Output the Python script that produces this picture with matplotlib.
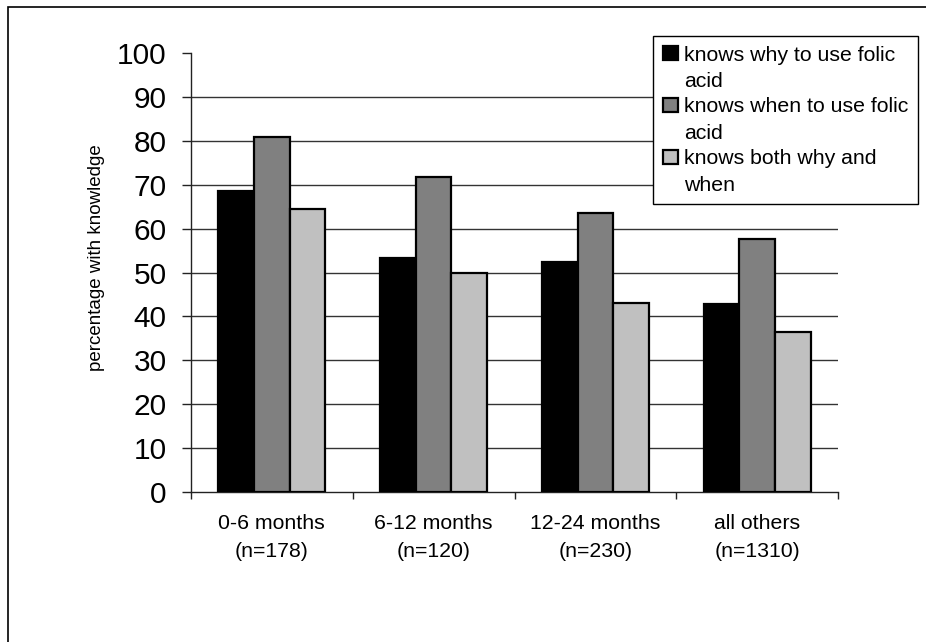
import matplotlib
matplotlib.use("Agg")
import matplotlib.pyplot as plt
import matplotlib.patches as mpatches
from matplotlib.legend_handler import HandlerPatch, update_from_first_child
from matplotlib.container import BarContainer
import numpy as np

plt.rcParams['font.family'] = ['Liberation Sans', 'DejaVu Sans']

# data
groups = ['0-6 months\n(n=178)', '6-12 months\n(n=120)', '12-24 months\n(n=230)', 'all others\n(n=1310)']
knows_why = [68.6, 53.4, 52.3, 42.9]
knows_when = [80.9, 71.8, 63.5, 57.6]
knows_both = [64.5, 49.9, 43.0, 36.4]
series_labels = ['knows why to use folic\nacid', 'knows when to use folic\nacid', 'knows both why and\nwhen']
colors = ['#000000', '#808080', '#c0c0c0']

W, H = 926, 642
fig = plt.figure(figsize=(W / 100, H / 100), dpi=100)
ax = fig.add_axes([191 / W, 1 - 492 / H, (838 - 191) / W, (492 - 53) / H])

x = np.arange(len(groups))
bw = 0.22
for i, (vals, c) in enumerate(zip([knows_why, knows_when, knows_both], colors)):
    ax.bar(x + (i - 1) * bw, vals, bw, color=c, edgecolor='black', linewidth=1.6,
           label=series_labels[i], zorder=3)

ax.set_xlim(-0.5, len(groups) - 0.5)
ax.set_ylim(0, 100)
ax.set_yticks(range(0, 101, 10))
ax.tick_params(axis='y', labelsize=21.5, length=6.5, width=1, pad=11, color='#222222')
for yv in range(10, 100, 10):
    ax.axhline(yv, color='#333333', linewidth=1, zorder=1)

# boundary ticks as major, category labels as minor
ax.set_xticks(np.arange(-0.5, len(groups), 1.0))
ax.set_xticklabels([])
ax.set_xticks(x, minor=True)
ax.set_xticklabels(groups, minor=True, fontsize=15.3, linespacing=1.56)
ax.tick_params(axis='x', which='major', length=5, width=1, color='#222222')
ax.tick_params(axis='x', which='minor', length=0, pad=16)

for s in ['top', 'right']:
    ax.spines[s].set_visible(False)
for s in ['left', 'bottom']:
    ax.spines[s].set_color('#222222')
    ax.spines[s].set_linewidth(1)

ax.set_ylabel('percentage with knowledge', fontsize=13.5)
ax.yaxis.set_label_coords(-0.133, 0.535)


# legend: put the swatch next to the first line of each two-line label
def top_patch(legend, orig_handle, xdescent, ydescent, width, height, fontsize):
    return mpatches.Rectangle((-xdescent, -ydescent + 0.72 * fontsize), width, height)


handles, labels = ax.get_legend_handles_labels()
leg = fig.legend(handles, labels, loc='upper left', bbox_to_anchor=(653 / W, 1 - 36 / H),
                 bbox_transform=fig.transFigure, borderaxespad=0, fontsize=15.3,
                 frameon=True, fancybox=False, framealpha=1, edgecolor='black',
                 handlelength=0.72, handleheight=0.6, handletextpad=0.3,
                 labelspacing=0.3, borderpad=0.45,
                 handler_map={BarContainer: HandlerPatch(patch_func=top_patch,
                                                         update_func=update_from_first_child)})
leg.get_frame().set_linewidth(1)
for t in leg.get_texts():
    t.set_linespacing(1.5)

# outer border of the original figure (cropped at right and bottom)
fig.patches.append(mpatches.Rectangle((8 / W, -0.5), 2, 1.5 - 7 / H, transform=fig.transFigure,
                                      fill=False, edgecolor='black', linewidth=1.2))

fig.savefig('out.png', dpi=100)
